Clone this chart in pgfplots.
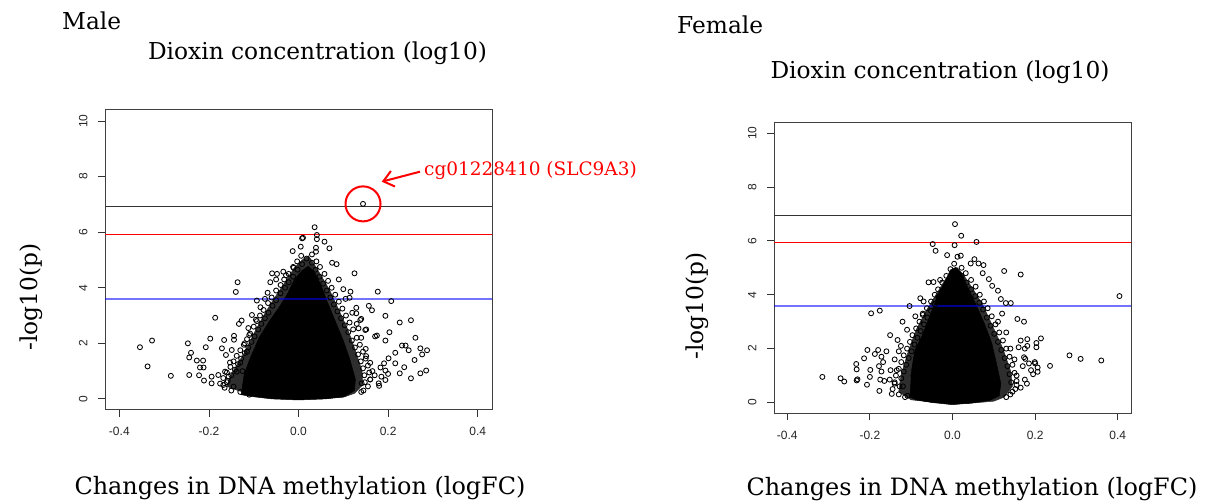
\documentclass[border=0pt]{standalone}
\usepackage{pgfplots}
\pgfplotsset{compat=1.18}
\usepackage{fontspec}
\setmainfont{DejaVu Serif}
\newfontfamily\tickfont{Liberation Sans}
\usetikzlibrary{arrows.meta}

% ---------- Male ----------
\pgfplotstableread{
x y
-0.128 0.15
-0.121 0.9
-0.107 1.5
-0.088 2.2
-0.065 2.8
-0.043 3.3
-0.024 3.8
-0.009 4.3
0.008 4.62
0.022 4.78
0.036 4.55
0.050 4.1
0.064 3.5
0.082 2.8
0.100 2.1
0.115 1.4
0.127 0.7
0.125 0.3
0.102 0.08
0.060 0.0
0.000 -0.04
-0.060 0.0
-0.102 0.08
}\malecore
\pgfplotstableread{
x y
-0.16 0.45
-0.15 0.9
-0.123 1.6
-0.098 2.4
-0.078 3.0
-0.055 3.6
-0.030 4.2
-0.010 4.7
0.008 5.0
0.022 5.15
0.033 4.9
0.050 4.45
0.070 3.9
0.090 3.2
0.110 2.5
0.128 1.7
0.142 1.0
0.143 0.5
0.125 0.2
0.10 0.06
0.05 0.0
-0.03 0.0
-0.09 0.1
-0.135 0.3
}\malefuzz
\pgfplotstableread{
x y
-0.175 0.55
-0.168 0.75
-0.160 0.95
-0.152 1.15
-0.145 1.35
-0.138 1.55
-0.130 1.75
-0.122 1.95
-0.115 2.15
-0.108 2.35
-0.100 2.6
-0.093 2.8
-0.086 3.0
-0.078 3.2
-0.068 3.45
-0.060 3.65
-0.050 3.9
-0.040 4.1
-0.032 4.3
-0.022 4.5
-0.012 4.75
-0.003 4.95
0.006 5.15
0.030 5.2
0.040 4.95
0.048 4.75
0.058 4.5
0.066 4.25
0.074 4.0
0.082 3.75
0.090 3.5
0.098 3.25
0.106 3.0
0.114 2.75
0.122 2.5
0.130 2.2
0.137 1.95
0.144 1.7
0.150 1.45
0.155 1.2
0.158 0.95
0.160 0.7
0.155 0.45
0.140 0.25
-0.165 0.4
-0.150 0.3
-0.130 0.25
-0.110 0.15
-0.160 0.6
-0.158 0.65
-0.150 0.85
-0.142 1.05
-0.135 1.25
-0.128 1.45
-0.120 1.65
-0.112 1.85
-0.105 2.05
-0.098 2.25
-0.090 2.5
-0.083 2.7
-0.075 2.9
-0.067 3.1
-0.058 3.35
-0.050 3.55
-0.040 3.8
-0.030 4.0
-0.022 4.2
-0.012 4.4
-0.002 4.65
0.008 4.85
0.018 5.05
0.030 4.9
0.038 4.65
0.047 4.4
0.055 4.15
0.063 3.9
0.071 3.65
0.079 3.4
0.087 3.15
0.095 2.9
0.103 2.65
0.111 2.4
0.119 2.1
0.126 1.85
0.133 1.6
0.139 1.35
0.144 1.1
0.147 0.85
0.148 0.6
}\maleedge
\pgfplotstableread{
x y
-0.354 1.86
-0.327 2.10
-0.337 1.17
-0.285 0.83
-0.247 2.00
-0.240 1.66
-0.244 1.49
-0.244 0.86
-0.227 1.38
-0.213 1.38
-0.220 1.13
-0.212 1.13
-0.222 0.85
-0.211 0.66
-0.207 1.86
-0.197 2.17
-0.186 2.92
-0.194 0.80
-0.194 0.56
-0.179 0.86
-0.168 0.50
-0.156 0.80
-0.145 0.44
-0.138 0.98
-0.164 0.98
-0.171 1.82
-0.166 2.12
-0.162 1.58
-0.144 2.27
-0.144 2.13
-0.149 1.76
-0.153 1.31
-0.140 3.85
-0.136 4.20
-0.127 2.82
-0.133 2.70
-0.104 3.02
-0.112 2.55
-0.095 2.85
-0.093 3.54
-0.069 3.82
-0.063 4.20
-0.059 4.52
-0.048 4.50
-0.034 4.58
-0.011 4.72
-0.013 5.32
0.005 5.48
0.008 5.78
0.010 5.80
0.036 6.18
0.041 5.90
0.041 5.75
0.058 5.66
0.069 5.42
0.039 5.44
0.039 5.30
0.075 4.90
0.085 4.85
0.125 4.52
0.177 3.86
0.207 3.52
0.116 3.86
0.114 3.64
0.157 3.35
0.164 3.19
0.129 3.28
0.194 2.99
0.140 2.88
0.151 2.50
0.226 2.75
0.251 2.83
0.203 2.40
0.175 2.28
0.261 2.20
0.194 2.10
0.231 1.92
0.239 1.92
0.246 1.75
0.272 1.82
0.287 1.75
0.276 1.60
0.259 1.40
0.216 1.66
0.236 1.14
0.285 1.02
0.272 0.92
0.251 0.74
0.194 1.02
0.180 0.47
0.226 0.92
0.201 1.46
0.216 1.28
0.183 1.13
0.191 1.28
0.179 0.56
0.194 0.68
0.141 0.56
0.151 1.54
0.171 2.25
0.149 2.48
0.134 2.54
0.138 2.84
0.129 3.08
-0.120 2.0
-0.115 1.7
-0.130 1.3
-0.125 1.0
-0.110 2.3
-0.085 3.3
-0.075 3.6
-0.050 4.3
-0.028 4.45
0.090 4.3
0.100 3.95
0.105 3.6
0.120 3.1
0.130 2.7
0.140 2.2
0.150 1.8
0.160 1.3
0.165 1.0
0.160 0.7
0.145 0.3
0.170 0.85
0.185 0.8
0.200 0.9
0.144 7.02
}\malepts

% ---------- Female ----------
\pgfplotstableread{
x y
-0.103 0.2
-0.099 1.2
-0.091 1.95
-0.073 2.5
-0.055 3.2
-0.038 3.9
-0.021 4.4
-0.005 4.92
0.008 5.02
0.021 4.8
0.036 4.3
0.058 3.6
0.078 2.9
0.095 2.2
0.107 1.4
0.117 0.7
0.113 0.25
0.090 0.08
0.045 -0.02
0.000 -0.08
-0.050 0.0
-0.088 0.1
}\femcore
\pgfplotstableread{
x y
-0.13 0.4
-0.125 1.0
-0.107 1.9
-0.088 2.7
-0.064 3.4
-0.040 4.0
-0.020 4.5
-0.002 4.9
0.012 5.0
0.028 4.7
0.050 4.2
0.074 3.6
0.098 2.8
0.122 2.0
0.140 1.2
0.145 0.6
0.125 0.2
0.10 0.05
0.04 -0.03
-0.04 0.0
-0.10 0.1
}\femfuzz
\pgfplotstableread{
x y
-0.145 0.5
-0.140 0.75
-0.137 1.0
-0.130 1.25
-0.124 1.5
-0.118 1.75
-0.110 2.0
-0.103 2.25
-0.097 2.5
-0.088 2.75
-0.080 3.0
-0.072 3.25
-0.062 3.5
-0.052 3.75
-0.043 4.0
-0.035 4.2
-0.025 4.45
-0.015 4.7
-0.005 4.95
0.004 5.15
0.022 5.0
0.032 4.8
0.045 4.55
0.056 4.3
0.066 4.0
0.076 3.75
0.085 3.5
0.095 3.2
0.104 2.9
0.113 2.6
0.122 2.3
0.130 2.0
0.138 1.7
0.145 1.4
0.150 1.1
0.155 0.8
0.152 0.5
0.140 0.3
-0.130 0.3
-0.115 0.2
-0.128 0.6
-0.124 0.9
-0.118 1.15
-0.112 1.4
-0.106 1.65
-0.099 1.9
-0.092 2.15
-0.085 2.4
-0.077 2.65
-0.069 2.9
-0.061 3.15
-0.052 3.4
-0.043 3.65
-0.034 3.9
-0.025 4.1
-0.015 4.35
-0.006 4.6
0.003 4.85
0.022 4.7
0.034 4.45
0.045 4.2
0.055 3.95
0.065 3.7
0.074 3.45
0.083 3.15
0.092 2.85
0.101 2.55
0.110 2.25
0.118 1.95
0.126 1.65
0.133 1.35
0.138 1.05
0.142 0.75
}\femedge
\pgfplotstableread{
x y
-0.315 0.95
-0.271 0.90
-0.262 0.78
-0.233 1.43
-0.232 1.23
-0.232 0.82
-0.230 0.86
-0.214 1.64
-0.206 1.95
-0.197 3.31
-0.176 3.41
-0.199 1.21
-0.207 0.66
-0.200 0.95
-0.177 0.43
-0.188 1.80
-0.180 1.95
-0.172 1.70
-0.168 1.50
-0.178 1.35
-0.172 1.15
-0.175 0.85
-0.165 0.80
-0.152 0.85
-0.160 1.90
-0.151 2.50
-0.133 2.32
-0.121 3.00
-0.104 3.58
-0.147 0.32
-0.109 0.25
-0.078 3.87
-0.070 3.75
-0.072 3.30
-0.058 4.46
-0.046 4.47
-0.048 5.88
-0.041 5.63
-0.030 4.55
-0.013 5.47
0.005 5.84
0.006 6.62
0.021 6.19
0.058 5.96
0.012 5.41
0.020 5.45
0.044 5.16
0.053 5.32
0.063 5.16
0.075 5.10
0.073 4.80
0.088 4.58
0.096 4.33
0.110 4.15
0.125 4.88
0.165 4.75
0.117 3.84
0.129 3.69
0.141 3.69
0.404 3.95
0.157 3.10
0.173 3.00
0.214 2.38
0.181 2.35
0.181 2.10
0.175 2.00
0.165 2.30
0.160 2.05
0.173 1.68
0.176 1.62
0.170 1.35
0.185 1.45
0.200 1.45
0.203 2.21
0.203 2.05
0.199 1.50
0.206 1.30
0.206 1.14
0.190 1.20
0.195 1.05
0.236 1.36
0.283 1.75
0.310 1.62
0.360 1.56
0.175 0.85
0.165 0.55
0.180 0.70
0.155 0.65
-0.140 1.6
-0.135 1.2
-0.125 2.1
-0.110 2.7
-0.090 3.2
-0.095 1.0
-0.120 0.6
-0.130 1.9
-0.150 1.2
-0.140 0.7
0.120 3.3
0.110 3.0
0.130 2.6
0.140 2.0
0.150 1.6
0.155 1.0
0.145 0.4
0.130 0.2
}\fempts

\pgfplotsset{
  volcano/.style={
    scale only axis, anchor=south west,
    xmin=-0.432, xmax=0.432, ymin=-0.4, ymax=10.4,
    xtick={-0.4,-0.2,0,0.2,0.4}, xticklabels={-0.4,-0.2,0.0,0.2,0.4},
    ytick={0,2,4,6,8,10}, yticklabels={0,2,4,6,8,10},
    tick align=outside, major tick length=7bp,
    tick pos=left,
    tick style={black!80, line width=0.8bp},
    axis line style={black!75, line width=1bp},
    ticklabel style={font=\tickfont\fontsize{12bp}{12bp}\selectfont, text=black!85},
    xticklabel shift=7bp,
    yticklabel shift=7bp,
    yticklabel style={rotate=90, anchor=south},
  },
  cloudfuzz/.style={fill=black!82, draw=black!82, line width=0.5bp},
  cloudcore/.style={fill=black, draw=black, line width=0.5bp},
  pts/.style={only marks, mark=o, mark size=2.5bp, mark options={line width=0.85bp, draw=black}},
}

\begin{document}
\begin{tikzpicture}[x=1bp,y=1bp]
\useasboundingbox (0,0) rectangle (1211,504);
\fill[white] (0,0) rectangle (1211,504);

% ===== Male panel =====
\begin{axis}[volcano, at={(105bp,94bp)}, width=387bp, height=300bp]
\addplot[cloudfuzz] table {\malefuzz} -- cycle;
\addplot[cloudcore] table {\malecore} -- cycle;
\addplot[pts] table {\maleedge};
\addplot[pts] table {\malepts};
\addplot[black!80, line width=1.2bp] coordinates {(-0.5,6.93) (0.5,6.93)};
\addplot[red, line width=1bp] coordinates {(-0.5,5.93) (0.5,5.93)};
\addplot[blue, opacity=0.55, line width=2bp] coordinates {(-0.5,3.60) (0.5,3.60)};
\draw[red, line width=2bp] (axis cs:0.144,7.02) circle[radius=17.5bp];
\end{axis}

% ===== Female panel =====
\begin{axis}[volcano, at={(774bp,90.7bp)}, width=357bp, height=291bp]
\addplot[cloudfuzz] table {\femfuzz} -- cycle;
\addplot[cloudcore] table {\femcore} -- cycle;
\addplot[pts] table {\femedge};
\addplot[pts] table {\fempts};
\addplot[black!80, line width=1.2bp] coordinates {(-0.5,6.94) (0.5,6.94)};
\addplot[red, line width=1bp] coordinates {(-0.5,5.94) (0.5,5.94)};
\addplot[blue, opacity=0.55, line width=2bp] coordinates {(-0.5,3.58) (0.5,3.58)};
\end{axis}

% ===== annotation =====
\draw[red, line width=2bp, -{Straight Barb[length=10bp, width=16bp]}] (420,332.3) -- (381.7,322.3);
\node[red, anchor=west, inner sep=0pt, font=\fontsize{18.5bp}{21bp}\selectfont] at (424,333) {cg01228410 (SLC9A3)};

% ===== texts =====
\begin{scope}[every node/.style={inner sep=0pt, font=\fontsize{23.3bp}{27bp}\selectfont}]
\node[anchor=base west] at (62,474.7) {Male};
\node[anchor=base] at (317.5,444.7) {Dioxin concentration (log10)};
\node[rotate=90, anchor=center] at (31,207) {-log10(p)};
\node[anchor=base, font=\fontsize{23.9bp}{27bp}\selectfont] at (300,9) {Changes in DNA methylation (logFC)};

\node[anchor=base west] at (677,470.7) {Female};
\node[anchor=base] at (940,425) {Dioxin concentration (log10)};
\node[rotate=90, anchor=center] at (697,198) {-log10(p)};
\node[anchor=base, font=\fontsize{23.9bp}{27bp}\selectfont] at (972,8) {Changes in DNA methylation (logFC)};
\end{scope}
\end{tikzpicture}
\end{document}
